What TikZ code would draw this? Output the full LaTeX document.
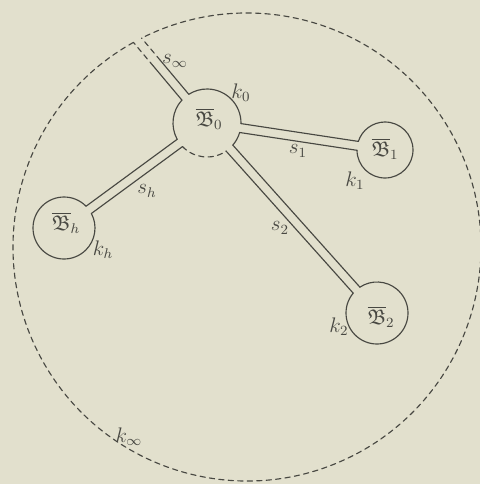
\documentclass[tikz,border=0pt]{standalone}
\usepackage{amssymb}
\usetikzlibrary{calc}
\definecolor{paper}{RGB}{226,224,205}
\definecolor{ink}{RGB}{72,72,66}
\tikzset{bdash/.style={dash pattern=on 3pt off 2.4pt}}
\begin{document}
\begin{tikzpicture}[x=0.2mm, y=0.2mm, font=\large, line join=round, line cap=round, ink, line width=0.65pt]
\fill[paper] (0,0) rectangle (480,-484);
\useasboundingbox (0,0) rectangle (480,-484);
% centres
\coordinate (O) at (247,-247);
\coordinate (B0) at (207,-123);
\coordinate (B1) at (385,-150);
\coordinate (B2) at (377,-313);
\coordinate (Bh) at (64,-228);
% wall ends
\coordinate (ia) at ($(B0)+(137.61:34)$);
\coordinate (ib) at ($(B0)+(122.39:34)$);
\coordinate (im) at ($(B0)+(130:78)+(220:4.5)$);
\coordinate (in) at ($(B0)+(130:78)+(40:4.5)$);
\coordinate (io) at ($(O)+(119.03:234)$);
\coordinate (ip) at ($(O)+(116.77:234)$);
\coordinate (1a) at ($(B0)+(-1.01:34)$);
\coordinate (1b) at ($(B0)+(-16.23:34)$);
\coordinate (1c) at ($(B1)+(162.13:28)$);
\coordinate (1d) at ($(B1)+(180.63:28)$);
\coordinate (2a) at ($(B0)+(-40.57:34)$);
\coordinate (2b) at ($(B0)+(-55.79:34)$);
\coordinate (2c) at ($(B2)+(123.47:31)$);
\coordinate (2d) at ($(B2)+(140.17:31)$);
\coordinate (ha) at ($(B0)+(223.90:34)$);
\coordinate (hb) at ($(B0)+(208.68:34)$);
\coordinate (hc) at ($(Bh)+(27.94:31)$);
\coordinate (hd) at ($(Bh)+(44.64:31)$);
% k_infty
\draw[bdash] (io) arc[start angle=119.03, end angle=476.77, radius=234];
% s_infty
\draw (ia) -- (im);
\draw[bdash] (im) -- (io);
\draw (ib) -- (in);
\draw[bdash] (in) -- (ip);
% s_1, s_2, s_h
\draw (1a) -- (1c) (1b) -- (1d);
\draw (2a) -- (2c) (2b) -- (2d);
\draw (ha) -- (hc) (hb) -- (hd);
% circles
\draw (1a) arc[start angle=-1.01, end angle=122.39, radius=34];
\draw (ia) arc[start angle=137.61, end angle=208.68, radius=34];
\draw[bdash] (ha) arc[start angle=223.90, end angle=304.21, radius=34];
\draw (2a) arc[start angle=-40.57, end angle=-16.23, radius=34];
\draw (1d) arc[start angle=180.63, end angle=522.13, radius=28];
\draw (2d) arc[start angle=140.17, end angle=483.47, radius=31];
\draw (hd) arc[start angle=44.64, end angle=387.94, radius=31];
% labels
\node (lB0) at (209,-119) {$\overline{\mathfrak{B}}_{0}$};
\node (lB1) at (385,-149) {$\overline{\mathfrak{B}}_{1}$};
\node (lB2) at (381,-317) {$\overline{\mathfrak{B}}_{2}$};
\node (lBh) at (66,-223) {$\overline{\mathfrak{B}}_{h}$};
\node (lsi) at (175,-61) {$s_\infty$};
\node (lk0) at (241,-93) {$k_0$};
\node (ls1) at (298,-151) {$s_1$};
\node (lk1) at (355,-181) {$k_1$};
\node (lsh) at (147,-191) {$s_h$};
\node (lkh) at (103,-250) {$k_h$};
\node (ls2) at (280,-228) {$s_2$};
\node (lk2) at (339,-327) {$k_2$};
\node (lki) at (129,-437) {$k_\infty$};
\end{tikzpicture}
\end{document}
